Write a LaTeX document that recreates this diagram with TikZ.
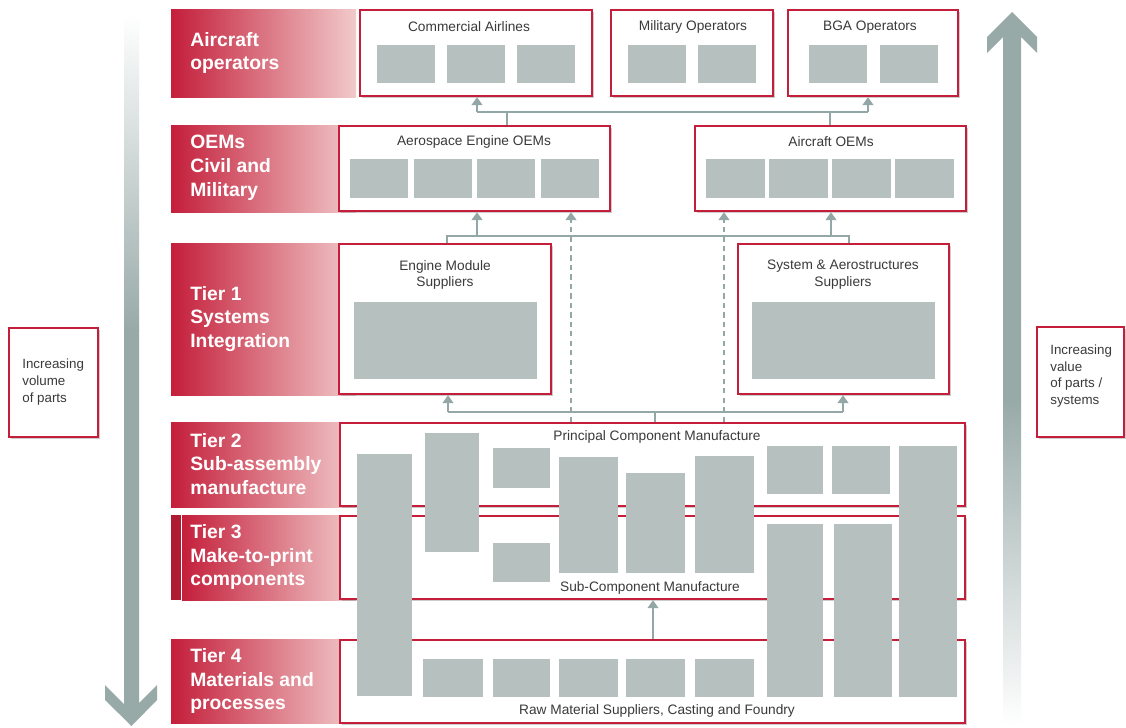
\documentclass[tikz,border=0pt]{standalone}
\usepackage{fontspec}
\setmainfont{Liberation Sans}
\usetikzlibrary{arrows.meta,calc,fit,positioning,shadows}
\definecolor{Crimson}{HTML}{C41E3A}
\definecolor{Blush}{HTML}{F1CACA}
\definecolor{Block}{HTML}{B6C1BF}
\definecolor{Link}{HTML}{93A8A6}
\definecolor{Shaft}{HTML}{98AAA8}
\definecolor{Ink}{HTML}{3A3A3A}

\tikzset{
  box/.style={draw=Crimson, line width=1.3pt, fill=white, inner sep=0pt,
    drop shadow={shadow xshift=1.4pt, shadow yshift=-1.4pt, opacity=.4}},
  tierbar/.style={left color=Crimson, right color=Blush, draw=none},
  tiertext/.style={anchor=west, align=left, inner sep=0pt, text=white,
    font=\fontsize{11}{13.6}\selectfont\bfseries},
  boxtitle/.style={font=\fontsize{7.8}{9.6}\selectfont, text=Ink, align=center},
  sidetext/.style={anchor=west, align=left, inner sep=0pt, text=Ink,
    font=\fontsize{7.6}{9.6}\selectfont},
  blk/.style={fill=Block},
  link/.style={draw=Link, line width=1.6pt},
  up/.style={link, -{Triangle[width=6pt,length=4.5pt]}},
  dashlink/.style={up, dash pattern=on 3pt off 2.4pt},
}

\begin{document}
\begin{tikzpicture}[x=0.02cm, y=-0.02cm]
  \useasboundingbox (0,0) rectangle (1126,727);
  \fill[white] (0,0) rectangle (1126,727);

  % big side arrows
  \shade[top color=white, bottom color=Shaft] (124,15) rectangle (139,330);
  \fill[Shaft] (124,329) -- (139,329) -- (139,703) -- (157,685) -- (157,700)
    -- (131.5,726) -- (105,700) -- (105,685) -- (124,704) -- cycle;
  \fill[Shaft] (1012,12) -- (1037,37) -- (1037,53) -- (1021,37) -- (1021,401)
    -- (1003,401) -- (1003,37) -- (987,53) -- (987,37) -- cycle;
  \shade[top color=Shaft, bottom color=white] (1003,400) rectangle (1021,725);

  % tier labels
  \foreach \t/\b in {9/97,125/212,243/395,422/507,639/723}
    \shade[tierbar] (171,\t) rectangle (356,\b);
  \fill[Crimson!90!black] (171,515) rectangle (181,600);
  \shade[tierbar] (182,515) rectangle (356,600);

  \node[tiertext] (t-op)  at (190,53)  {Aircraft\\operators};
  \node[tiertext] (t-oem) at (190,168) {OEMs\\Civil and\\Military};
  \node[tiertext] (t-t1)  at (190,319) {Tier 1\\Systems\\Integration};
  \node[tiertext] (t-t2)  at (190,464) {Tier 2\\Sub-assembly\\manufacture};
  \node[tiertext] (t-t3)  at (190,557) {Tier 3\\Make-to-print\\components};
  \node[tiertext] (t-t4)  at (190,681) {Tier 4\\Materials and\\processes};

  % boxes
  \node[box, fit={(360,10) (592,96)}]  (ca)   {};
  \node[box, fit={(611,10) (773,96)}]  (mil)  {};
  \node[box, fit={(788,10) (958,96)}]  (bga)  {};
  \node[box, fit={(339,126) (610,211)}] (aeo)  {};
  \node[box, fit={(695,126) (966,211)}] (aoem) {};
  \node[box, fit={(339,244) (551,394)}] (ems)  {};
  \node[box, fit={(738,244) (949,394)}] (sas)  {};
  \node[box, fit={(340,423) (965,506)}] (pcm)  {};
  \node[box, fit={(340,516) (965,599)}] (scm)  {};
  \node[box, fit={(340,640) (965,723)}] (raw)  {};
  \node[box, fit={(9,328) (98,437)}]    (vol)  {};
  \node[box, fit={(1037,327) (1124,437)}] (val) {};

  % grey blocks
  \foreach \x in {377,447,517} \fill[blk] (\x,45) rectangle +(58,38);
  \foreach \x in {628,698} \fill[blk] (\x,45) rectangle +(58,38);
  \foreach \x in {809,880} \fill[blk] (\x,45) rectangle +(58,38);
  \foreach \x in {350,414,477,541} \fill[blk] (\x,159) rectangle +(58,39);
  \foreach \x in {706,769,832,895} \fill[blk] (\x,159) rectangle +(59,39);
  \fill[blk] (354,302) rectangle (537,379);
  \fill[blk] (752,302) rectangle (935,379);
  \foreach \x/\y/\w/\h in {357/454/55/242, 425/433/54/119, 493/448/57/40,
      493/543/57/39, 559/457/59/116, 626/473/59/100, 695/456/59/117,
      767/446/56/48, 832/446/58/48, 899/446/58/251, 767/524/56/173,
      834/524/58/173}
    \fill[blk] (\x,\y) rectangle +(\w,\h);
  \foreach \x/\w in {423/60, 493/57, 559/59, 626/59, 695/59}
    \fill[blk] (\x,659) rectangle +(\w,38);

  % operators bus
  \coordinate (opL) at (477,112);
  \coordinate (opR) at (868,112);
  \draw[link] (opL) -- (opR);
  \draw[up] (opL) -- (opL |- ca.south);
  \draw[up] (opR) -- (opR |- bga.south);
  \draw[link] (aeo.north -| 507,0) -- (opL -| 507,0);
  \draw[link] (aoem.north -| 830,0) -- (opL -| 830,0);

  % tier 1 to OEMs
  \coordinate (smL) at (447,236);
  \coordinate (smR) at (849,236);
  \draw[link] (ems.north -| smL) -- (smL) -- (smR) -- (sas.north -| smR);
  \draw[up] (smL -| 477,0) -- (aeo.south -| 477,0);
  \draw[up] (smL -| 831,0) -- (aoem.south -| 831,0);
  \draw[dashlink] (pcm.north -| 571,0) -- (aeo.south -| 571,0);
  \draw[dashlink] (pcm.north -| 724,0) -- (aoem.south -| 724,0);

  % tier 2 to tier 1
  \coordinate (pcL) at (448,412);
  \coordinate (pcR) at (843,412);
  \draw[link] (pcL) -- (pcR);
  \draw[link] (pcm.north -| 655,0) -- (pcL -| 655,0);
  \draw[up] (pcL) -- (ems.south -| pcL);
  \draw[up] (pcR) -- (sas.south -| pcR);

  % tier 4 to tier 3
  \draw[up] (raw.north -| 653,0) -- (scm.south -| 653,0);

  % titles
  \node[boxtitle] (ca-t)   at (469,27)  {Commercial Airlines};
  \node[boxtitle] (mil-t)  at (693,27)  {Military Operators};
  \node[boxtitle] (bga-t)  at (870,27)  {BGA Operators};
  \node[boxtitle] (aeo-t)  at (474,142) {Aerospace Engine OEMs};
  \node[boxtitle] (aoem-t) at (831,142) {Aircraft OEMs};
  \node[boxtitle] (ems-t)  at (445,275) {Engine Module\\Suppliers};
  \node[boxtitle] (sas-t)  at (843,275) {System \& Aerostructures\\Suppliers};
  \node[boxtitle] (pcm-t)  at (657,437) {Principal Component Manufacture};
  \node[boxtitle] (scm-t)  at (650,588) {Sub-Component Manufacture};
  \node[boxtitle] (raw-t)  at (657,711) {Raw Material Suppliers, Casting and Foundry};
  \node[sidetext] (vol-t)  at (22,382)  {Increasing\\volume\\of parts};
  \node[sidetext] (val-t)  at (1050,376) {Increasing\\value\\of parts /\\systems};
\end{tikzpicture}
\end{document}
